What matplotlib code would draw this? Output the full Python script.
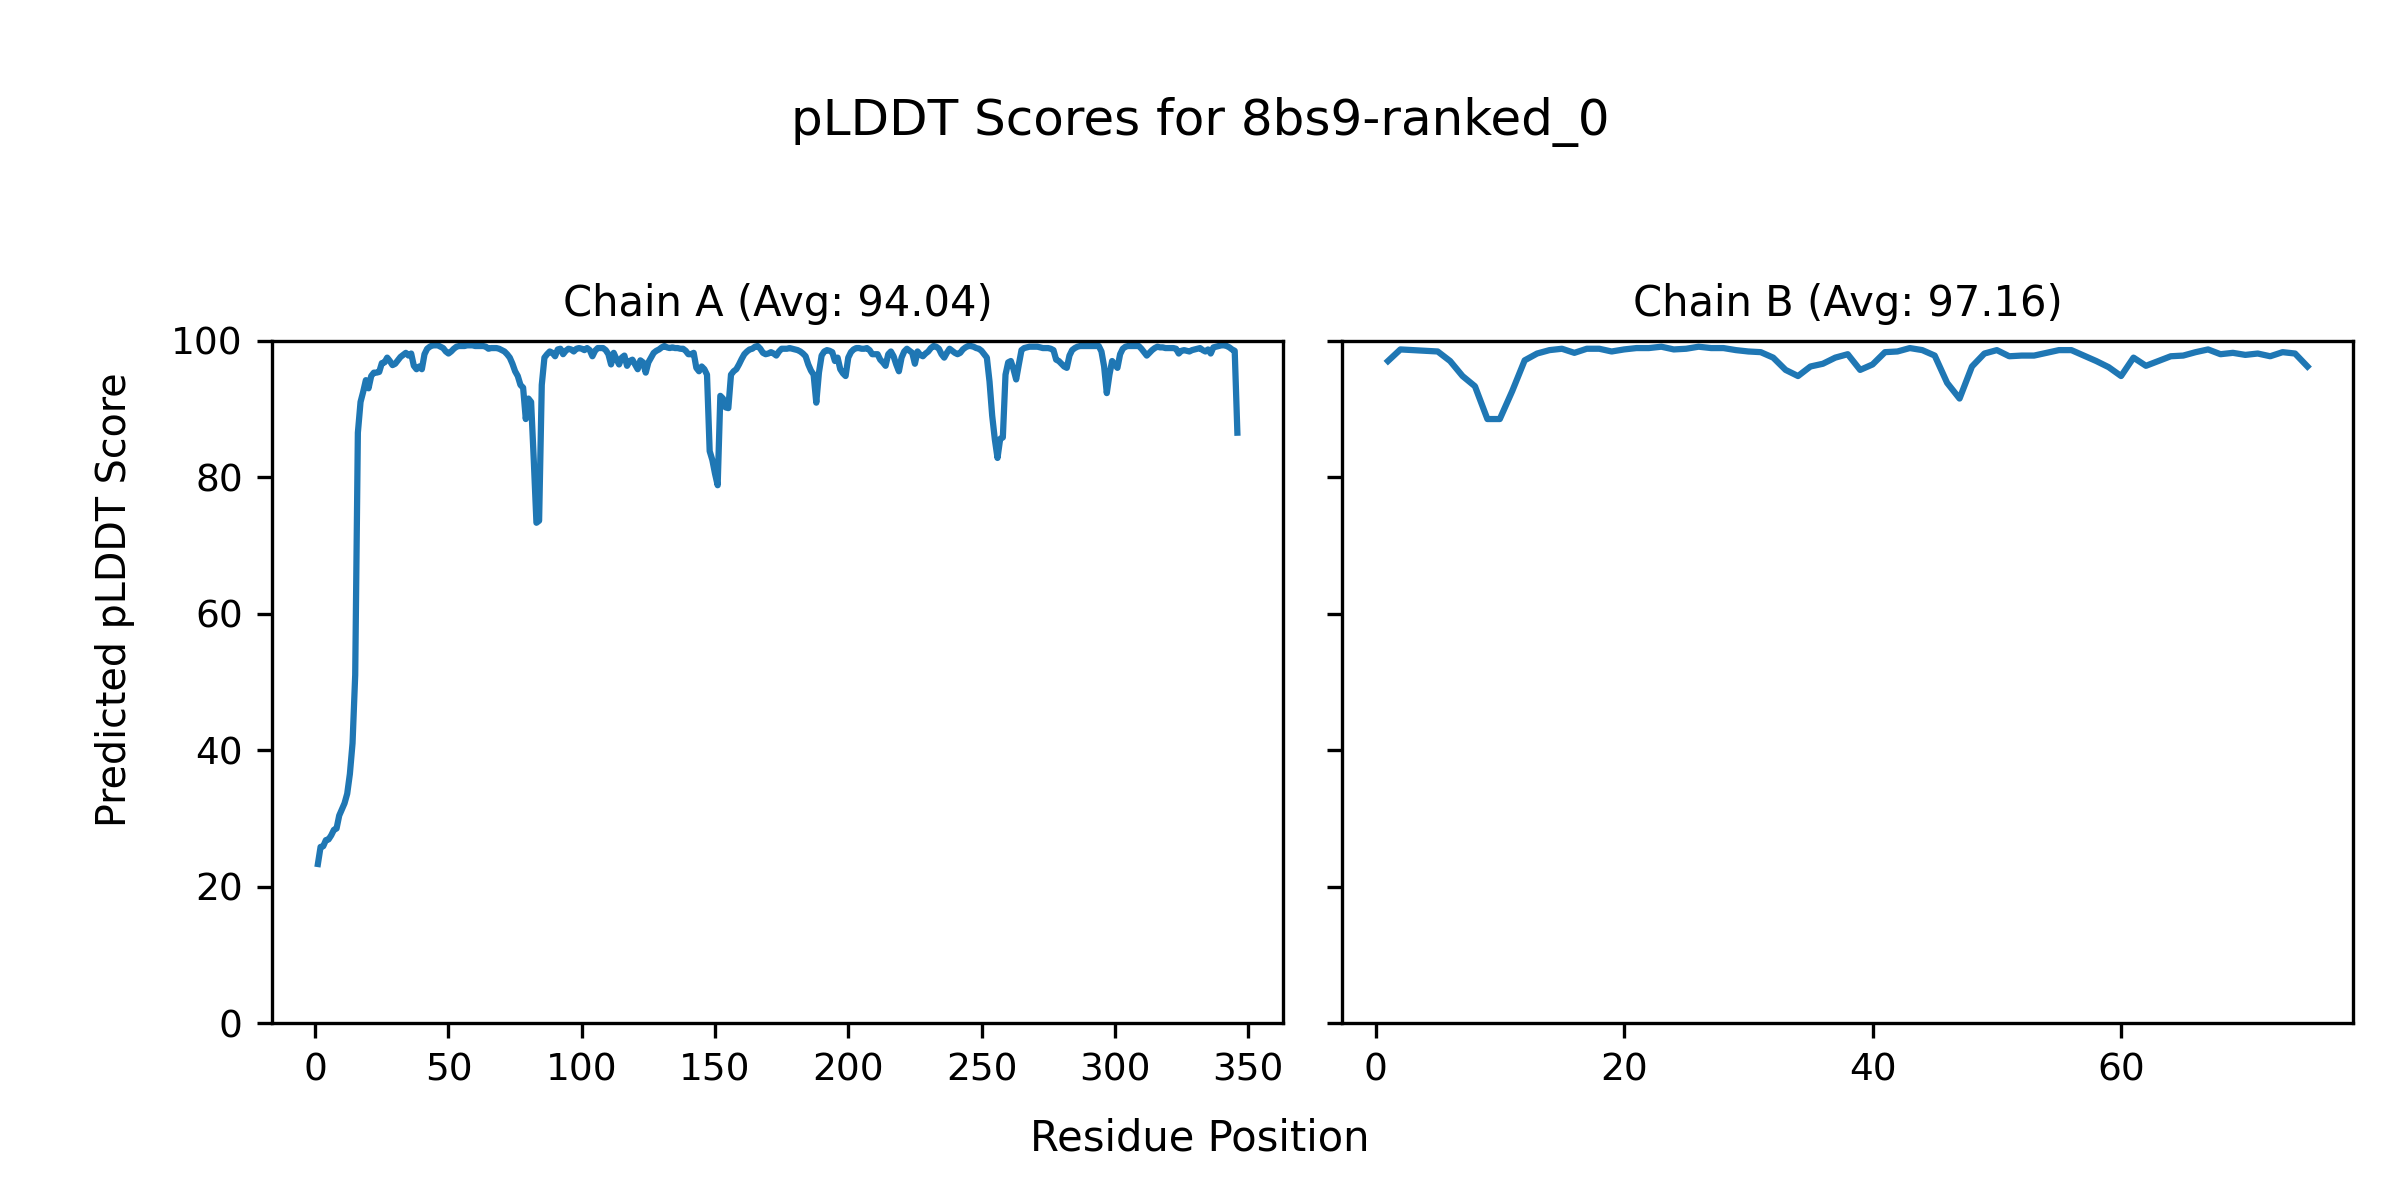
import numpy as np
import matplotlib
matplotlib.use('Agg')
import matplotlib.pyplot as plt

model_name = "8bs9-ranked_0"

# pLDDT per residue, chain A (residues 1..346)
chain_a = [
    23.3, 25.8, 25.9, 26.8, 26.9, 27.5, 28.3, 28.5, 30.4, 31.3,
    32.2, 33.6, 36.5, 41.0, 51.0, 86.5, 91.0, 92.5, 94.2, 93.0,
    94.8, 95.3, 95.3, 95.4, 96.7, 96.8, 97.5, 97.0, 96.4, 96.6,
    97.1, 97.6, 97.9, 98.2, 97.8, 98.1, 96.3, 95.8, 96.2, 95.8,
    98.0, 98.8, 99.1, 99.3, 99.3, 99.3, 99.1, 98.9, 98.4, 98.1,
    98.4, 98.8, 99.1, 99.2, 99.2, 99.2, 99.3, 99.3, 99.3, 99.2,
    99.2, 99.2, 99.2, 99.1, 98.8, 98.9, 98.9, 98.9, 98.8, 98.6,
    98.4, 98.0, 97.5, 96.6, 95.5, 94.8, 93.5, 93.1, 88.5, 91.5,
    91.0, 82.5, 73.3, 73.6, 93.5, 97.5, 98.0, 98.4, 98.2, 97.7,
    98.7, 98.8, 98.0, 98.5, 98.8, 98.7, 98.4, 98.8, 98.9, 98.8,
    98.6, 98.9, 98.6, 97.7, 98.5, 98.9, 98.9, 98.9, 98.6, 98.0,
    96.5, 98.2, 97.3, 96.5, 97.5, 97.8, 96.3, 97.0, 97.2, 96.5,
    95.8, 97.1, 96.8, 95.3, 96.8, 97.5, 98.2, 98.5, 98.7, 99.0,
    99.2, 99.0, 98.9, 99.0, 98.9, 98.9, 98.8, 98.8, 98.5, 98.0,
    98.0, 98.2, 96.0, 95.5, 96.2, 95.8, 95.0, 83.8, 82.5, 80.5,
    78.8, 91.9, 91.5, 90.2, 90.1, 95.0, 95.5, 95.8, 96.5, 97.3,
    98.0, 98.4, 98.7, 98.8, 99.1, 99.2, 98.8, 98.2, 98.0, 98.1,
    98.3, 98.1, 97.8, 98.4, 98.8, 98.8, 98.8, 98.9, 98.8, 98.7,
    98.6, 98.4, 98.1, 97.7, 96.5, 95.6, 95.0, 90.9, 95.3, 97.8,
    98.4, 98.6, 98.5, 98.3, 97.0, 97.5, 95.8, 95.2, 94.8, 97.5,
    98.3, 98.7, 98.9, 98.9, 98.8, 98.8, 98.9, 98.6, 98.0, 98.0,
    98.0, 97.2, 96.8, 96.3, 98.0, 98.4, 97.7, 96.5, 95.5, 97.5,
    98.4, 98.8, 98.5, 98.2, 96.6, 98.4, 97.9, 97.7, 98.1, 98.4,
    98.9, 99.2, 99.1, 98.8, 98.0, 97.5, 98.2, 98.8, 98.5, 98.2,
    98.0, 98.2, 98.7, 99.0, 99.2, 99.2, 99.1, 98.9, 98.8, 98.5,
    98.0, 97.5, 94.0, 89.0, 85.5, 82.8, 85.6, 85.8, 95.0, 96.8,
    97.0, 95.8, 94.3, 96.5, 98.6, 98.9, 99.0, 99.1, 99.1, 99.1,
    99.1, 99.0, 98.9, 98.9, 98.9, 98.8, 98.6, 97.2, 97.0, 96.6,
    96.2, 96.0, 97.8, 98.6, 98.9, 99.1, 99.2, 99.2, 99.2, 99.2,
    99.2, 99.2, 99.2, 99.2, 98.4, 96.2, 92.3, 95.0, 97.0, 96.5,
    96.0, 98.0, 98.8, 99.1, 99.2, 99.2, 99.2, 99.2, 99.2, 98.8,
    98.3, 97.8, 98.2, 98.6, 98.9, 99.1, 99.0, 99.0, 98.9, 98.9,
    98.9, 98.9, 98.8, 98.1, 98.5, 98.6, 98.5, 98.4, 98.6, 98.7,
    98.8, 98.9, 98.6, 98.4, 98.7, 98.1, 99.0, 99.1, 99.2, 99.3,
    99.3, 99.2, 99.0, 98.7, 98.5, 86.5,
]

# pLDDT per residue, chain B (residues 1..75)
chain_b = [
    97.0, 98.7, 98.6, 98.5, 98.4, 97.0, 94.8, 93.3, 88.5, 88.5,
    92.6, 97.1, 98.1, 98.6, 98.8, 98.2, 98.8, 98.8, 98.4, 98.7,
    98.9, 98.9, 99.1, 98.7, 98.8, 99.1, 98.9, 98.9, 98.6, 98.4,
    98.3, 97.5, 95.7, 94.8, 96.2, 96.6, 97.5, 98.0, 95.7, 96.5,
    98.3, 98.4, 98.9, 98.6, 97.8, 93.8, 91.5, 96.2, 98.1, 98.6,
    97.7, 97.8, 97.8, 98.2, 98.6, 98.6, 97.8, 97.0, 96.1, 94.8,
    97.5, 96.3, 97.0, 97.7, 97.8, 98.3, 98.7, 98.0, 98.2, 97.9,
    98.1, 97.7, 98.3, 98.1, 96.2,
]

chain_names = ["A", "B"]
chain_avgs = [94.04, 97.16]


if __name__ == '__main__':
    fig, axes = plt.subplots(1, 2, figsize=(8, 4), sharey=True)
    for ax, name, avg, scores in zip(axes, chain_names, chain_avgs, [chain_a, chain_b]):
        x = np.arange(1, len(scores) + 1)
        ax.plot(x, scores)
        ax.set_title("Chain " + name + " (Avg: %.2f)" % avg, fontsize=10)
        ax.tick_params(labelsize=9)
    axes[0].set_ylim(0, 100)

    fig.suptitle("pLDDT Scores for " + model_name, fontsize=12, y=0.898, va='center')
    fig.supxlabel("Residue Position", fontsize=10, y=0.051, va='center')
    fig.supylabel("Predicted pLDDT Score", fontsize=9.5, x=0.048, ha='center')
    plt.subplots_adjust(left=0.1133, right=0.9806, bottom=0.1475, top=0.7162, wspace=0.058)
    plt.savefig("out.png", dpi=300)
